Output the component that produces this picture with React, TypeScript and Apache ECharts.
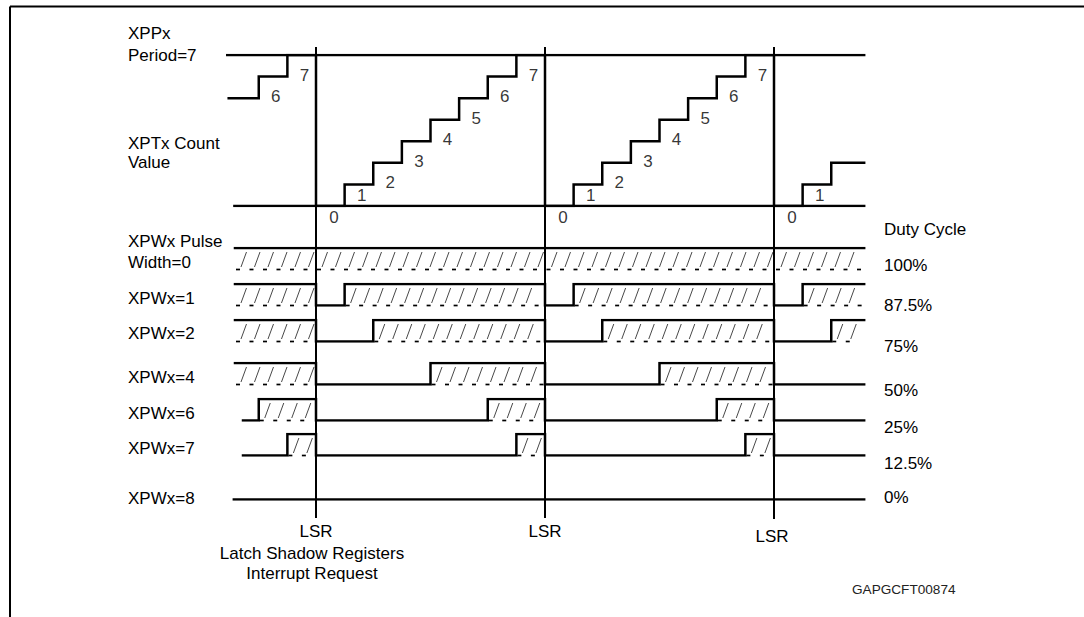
import React, { useEffect, useRef } from "react";
import * as echarts from "echarts";

// ---- data ----
const ticks = [-3, -2, -1, 0, 1, 2, 3, 4, 5, 6, 7, 8, 9, 10, 11, 12, 13, 14, 15, 16, 17, 18];
const countValues = [5, 6, 7, 0, 1, 2, 3, 4, 5, 6, 7, 0, 1, 2, 3, 4, 5, 6, 7, 0, 1, 2];
const periodValue = 7;
const lsrTicks = [0, 8, 16];
const countLabelFrom = -2;
const countLabelTo = 17;
const pulseWidths = [0, 1, 2, 4, 6, 7, 8];
const pulseStart = [-2.83, -2.83, -2.83, -2.83, -2.55, -2.55, -2.87];
const pulseLabels = [["XPWx Pulse", "Width=0"], ["XPWx=1"], ["XPWx=2"], ["XPWx=4"], ["XPWx=6"], ["XPWx=7"], ["XPWx=8"]];
const dutyLabels = ["100%", "87.5%", "75%", "50%", "25%", "12.5%", "0%"];
const countTitle = ["XPTx Count", "Value"];
const periodTitle = ["XPPx", "Period=7"];
const lsrText = "LSR";
const lsrNote = ["Latch Shadow Registers", "Interrupt Request"];
const dutyTitle = "Duty Cycle";
const figureId = "GAPGCFT00874";

// ---- layout ----
const X_MIN = -3.1;
const X_MAX = 19.15;
const PX = 28.625;
const LSR0 = 316;
const GRID_LEFT = LSR0 + X_MIN * PX;
const GRID_W = (X_MAX - X_MIN) * PX;
const COUNT_TOP = 55;
const COUNT_H = 151;
const ROW_TOPS = [248, 284, 320, 363, 399, 434, 478];
const ROW_H = 21.5;
const OV_TOP = 47;
const OV_H = 471;
const FONT = "Liberation Sans, Arial, Helvetica, sans-serif";
const FS = 17;

function levelAt(w: number, i: number) {
  return countValues[i] >= w ? 1 : 0;
}

function wavePoints(w: number, tStart: number) {
  const pts: number[][] = [];
  ticks.forEach((t, i) => {
    if (t + 1 <= tStart) return;
    pts.push([Math.max(t, tStart), levelAt(w, i)]);
  });
  pts.push([X_MAX, pts[pts.length - 1][1]]);
  return pts;
}

function highSegments(pts: number[][]) {
  const segs: number[][] = [];
  for (let j = 0; j < pts.length - 1; j++) {
    if (pts[j][1] === 1) {
      const last = segs[segs.length - 1];
      if (last && last[1] === pts[j][0]) last[1] = pts[j + 1][0];
      else segs.push([pts[j][0], pts[j + 1][0]]);
    }
  }
  return segs;
}

function txt(text: string, x: number, y: number, opts: any = {}) {
  return {
    type: "text",
    x,
    y,
    silent: true,
    style: {
      text,
      fill: opts.fill || "#000",
      fontSize: opts.fontSize || FS,
      fontFamily: FONT,
      align: opts.align || "left",
      verticalAlign: "middle",
      textAlign: opts.align || "left",
      textVerticalAlign: "middle",
    },
  };
}

function buildOption() {
  const grids: any[] = [];
  const xAxes: any[] = [];
  const yAxes: any[] = [];
  const series: any[] = [];
  const addGrid = (top: number, height: number, yMax: number) => {
    grids.push({ left: GRID_LEFT, top, width: GRID_W, height, containLabel: false });
    const idx = grids.length - 1;
    xAxes.push({ type: "value", gridIndex: idx, min: X_MIN, max: X_MAX, show: false });
    yAxes.push({ type: "value", gridIndex: idx, min: 0, max: yMax, show: false });
    return idx;
  };
  const lineStyle = { color: "#000", width: 2.5, cap: "square", join: "miter" };

  // count grid
  const cg = addGrid(COUNT_TOP, COUNT_H, periodValue);
  const stair: number[][] = [[-3.05, countValues[0]]];
  for (let i = 1; i < ticks.length; i++) stair.push([ticks[i], countValues[i]]);
  stair.push([X_MAX, countValues[countValues.length - 1]]);
  series.push({
    type: "line", xAxisIndex: cg, yAxisIndex: cg, step: "end", symbol: "none",
    data: stair, lineStyle, silent: true,
  });
  series.push({
    type: "line", xAxisIndex: cg, yAxisIndex: cg, symbol: "none",
    data: [[X_MIN, periodValue], [X_MAX, periodValue]], lineStyle, silent: true,
  });
  series.push({
    type: "line", xAxisIndex: cg, yAxisIndex: cg, symbol: "none",
    data: [[-2.85, 0], [X_MAX, 0]], lineStyle, silent: true,
  });
  const lbl: any[] = [];
  ticks.forEach((t, i) => {
    if (t < countLabelFrom || t > countLabelTo) return;
    const v = countValues[i];
    lbl.push({
      value: [t, v],
      label: { offset: v === 0 ? [18, 11] : v === 1 ? [17, 11] : [17, 20] },
    });
  });
  series.push({
    type: "scatter", xAxisIndex: cg, yAxisIndex: cg, symbolSize: 0, silent: true,
    data: lbl,
    label: {
      show: true, position: "inside", color: "#000", fontSize: FS, fontFamily: FONT,
      formatter: (p: any) => String(p.value[1]),
    },
  });

  // pulse rows
  pulseWidths.forEach((w, r) => {
    const g = addGrid(ROW_TOPS[r], ROW_H, 1);
    const pts = wavePoints(w, pulseStart[r]);
    series.push({
      type: "line", xAxisIndex: g, yAxisIndex: g, step: "end", symbol: "none",
      data: pts, lineStyle, silent: true,
    });
    series.push({
      type: "custom", xAxisIndex: g, yAxisIndex: g, silent: true, clip: false,
      data: highSegments(pts),
      renderItem: (params: any, api: any) => {
        const a = api.coord([api.value(0), 1]);
        const b = api.coord([api.value(1), 0]);
        const x0 = a[0], x1 = b[0], yt = a[1], yb = b[1];
        const children: any[] = [];
        for (let x = x0 + 1; x + 4 <= x1 - 1; x += 13.5) {
          children.push({
            type: "line",
            shape: { x1: x, y1: yb, x2: Math.min(x + 4, x1 - 1), y2: yb },
            style: { stroke: "#000", lineWidth: 1.7 },
          });
          if (x + 10.5 <= x1 - 0.5) {
            children.push({
              type: "line",
              shape: { x1: x + 5, y1: yb - 2.5, x2: x + 10.5, y2: yt + 4 },
              style: { stroke: "#333", lineWidth: 0.9 },
            });
          }
        }
        return { type: "group", children };
      },
    });
  });

  // LSR overlay
  const og = addGrid(OV_TOP, OV_H, 1);
  lsrTicks.forEach((t, k) => {
    series.push({
      type: "line", xAxisIndex: og, yAxisIndex: og, symbol: "none", silent: true,
      data: [[t, k === 2 ? -0.013 : 0], [t, 1]],
      lineStyle: { color: "#000", width: 2 },
    });
  });

  const xOf = (t: number) => LSR0 + t * PX;
  const graphics: any[] = [
    { type: "line", silent: true, shape: { x1: 10, y1: 6.5, x2: 1084, y2: 6.5 }, style: { stroke: "#000", lineWidth: 2 } },
    { type: "line", silent: true, shape: { x1: 10, y1: 6.5, x2: 10, y2: 617 }, style: { stroke: "#000", lineWidth: 2 } },
    txt(periodTitle[0], 128, 33),
    txt(periodTitle[1], 128, 55),
    txt(countTitle[0], 128, 143),
    txt(countTitle[1], 128, 162),
    txt(pulseLabels[0][0], 128, 241),
    txt(pulseLabels[0][1], 128, 262),
  ];
  const rowLabelY = [0, 298, 333, 377, 413, 448, 498];
  for (let r = 1; r < pulseLabels.length; r++) graphics.push(txt(pulseLabels[r][0], 128, rowLabelY[r]));
  const dutyY = [265, 305, 346, 390, 427, 463, 497];
  graphics.push(txt(dutyTitle, 884, 229));
  dutyLabels.forEach((d, r) => graphics.push(txt(d, 884, dutyY[r])));
  lsrTicks.forEach((t, k) => graphics.push(txt(lsrText, xOf(t) + (k === 2 ? -2 : 0), k === 2 ? 536 : 531, { align: "center" })));
  graphics.push(txt(lsrNote[0], xOf(0) - 4, 553, { align: "center" }));
  graphics.push(txt(lsrNote[1], xOf(0) - 4, 573, { align: "center" }));
  graphics.push(txt(figureId, 852, 589, { fontSize: 13.6, fill: "#222" }));

  return {
    animation: false,
    backgroundColor: "#fff",
    grid: grids,
    xAxis: xAxes,
    yAxis: yAxes,
    series,
    graphic: { elements: graphics },
  };
}

export default function App() {
  const ref = useRef<HTMLDivElement>(null);
  useEffect(() => {
    document.body.style.margin = "0";
    if (!ref.current) return;
    const chart = echarts.init(ref.current, undefined, { renderer: "svg" });
    chart.setOption(buildOption() as any);
    return () => chart.dispose();
  }, []);
  return <div ref={ref} style={{ width: 1084, height: 617 }} />;
}
